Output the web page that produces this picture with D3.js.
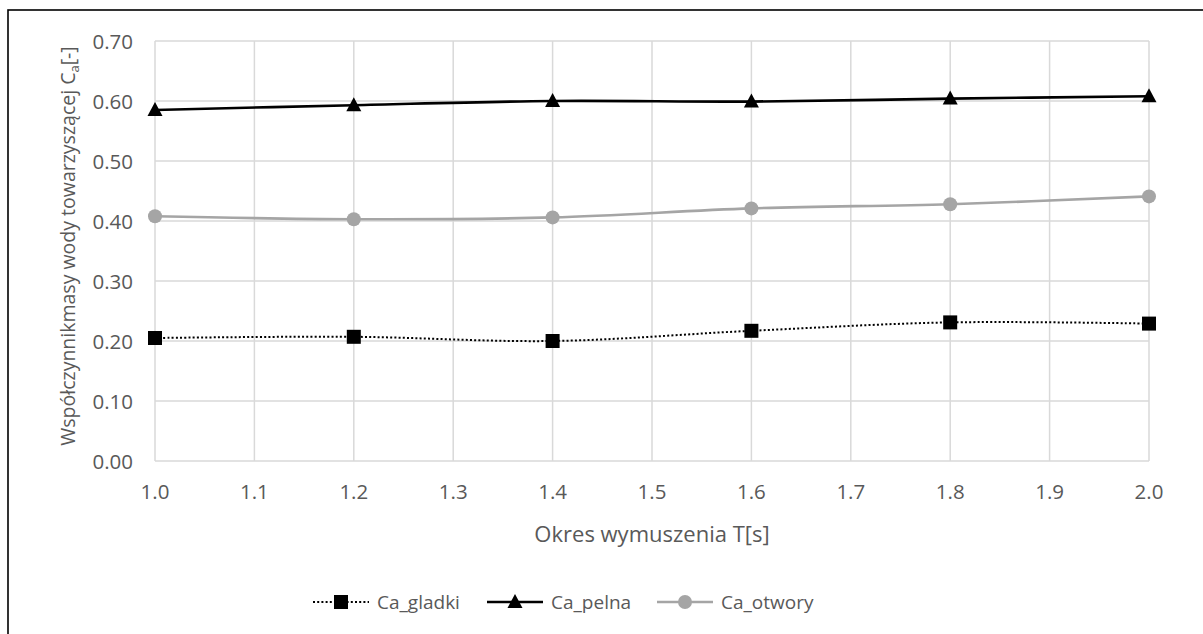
<!DOCTYPE html>
<html><head><meta charset="utf-8">
<script src="https://cdn.jsdelivr.net/npm/d3@7"></script>
<style>body{margin:0;background:#fff}svg{display:block}text{font-family:"Open Sans","Liberation Sans",sans-serif;fill:#595959}</style>
</head><body><svg id="c" width="1203" height="634"></svg>
<script>
const periods = [1.0, 1.2, 1.4, 1.6, 1.8, 2.0];
const caGladki = [0.205, 0.207, 0.200, 0.217, 0.231, 0.229];
const caPelna = [0.585, 0.593, 0.600, 0.599, 0.604, 0.608];
const caOtwory = [0.408, 0.403, 0.406, 0.421, 0.428, 0.441];
const xTicks = [1.0,1.1,1.2,1.3,1.4,1.5,1.6,1.7,1.8,1.9,2.0];
const yTicks = [0,0.1,0.2,0.3,0.4,0.5,0.6,0.7];
const seriesNames = ["Ca_gladki","Ca_pelna","Ca_otwory"];

const svg = d3.select("#c");
svg.append("rect").attr("x",8).attr("y",10).attr("width",1220).attr("height",660)
  .attr("fill","none").attr("stroke","#000").attr("stroke-width",1.6);

const x = d3.scaleLinear().domain([1.0,2.0]).range([155,1149]);
const y = d3.scaleLinear().domain([0,0.7]).range([461,41]);

const g = svg.append("g");
g.selectAll(".vg").data(xTicks).join("line")
  .attr("x1",d=>x(d)).attr("x2",d=>x(d)).attr("y1",y(0.7)).attr("y2",y(0))
  .attr("stroke","#d9d9d9").attr("stroke-width",1.5);
g.selectAll(".hg").data(yTicks).join("line")
  .attr("x1",x(1)).attr("x2",x(2)).attr("y1",d=>y(d)).attr("y2",d=>y(d))
  .attr("stroke","#d9d9d9").attr("stroke-width",1.5);

g.selectAll(".yt").data(yTicks).join("text")
  .attr("x",133).attr("y",d=>y(d)+7.5).attr("text-anchor","end")
  .attr("font-size",20.5).text(d=>d.toFixed(2));
g.selectAll(".xt").data(xTicks).join("text")
  .attr("x",d=>x(d)).attr("y",499).attr("text-anchor","middle")
  .attr("font-size",20.5).text(d=>d.toFixed(1));

svg.append("text").attr("x",652).attr("y",542).attr("text-anchor","middle")
  .attr("font-size",22).text("Okres wymuszenia T[s]");
const yt = svg.append("text").attr("transform","translate(75,246) rotate(-90)")
  .attr("text-anchor","middle").attr("font-size",19.5);
yt.append("tspan").text("Współczynnikmasy wody towarzyszącej C");
yt.append("tspan").attr("font-size",13).attr("dy",4).text("a");
yt.append("tspan").attr("dy",-4).text("[-]");

const line = d3.line().x((d,i)=>x(periods[i])).y(d=>y(d)).curve(d3.curveCatmullRom.alpha(0.5));

const styles = [
  {data:caGladki, color:"#000", width:2, dash:"2,2.2", marker:"square"},
  {data:caPelna, color:"#000", width:2.6, dash:null, marker:"triangle"},
  {data:caOtwory, color:"#a5a5a5", width:2.6, dash:null, marker:"circle"}
];
function marker(sel, type, color){
  if(type==="square") sel.append("rect").attr("x",-7).attr("y",-7).attr("width",14).attr("height",14).attr("fill",color);
  else if(type==="triangle") sel.append("path").attr("d","M0,-8 L7.5,6 L-7.5,6 Z").attr("fill",color);
  else sel.append("circle").attr("r",7).attr("fill",color);
}
[2,1,0].forEach(k=>{
  const s = styles[k];
  svg.append("path").attr("d",line(s.data)).attr("fill","none").attr("stroke",s.color)
    .attr("stroke-width",s.width).attr("stroke-dasharray",s.dash);
  s.data.forEach((v,i)=>{
    const m = svg.append("g").attr("transform",`translate(${x(periods[i])},${y(v)})`);
    marker(m,s.marker,s.color);
  });
});

const legX = [313, 487, 657];
styles.forEach((s,k)=>{
  const lg = svg.append("g").attr("transform",`translate(${legX[k]},602)`);
  lg.append("line").attr("x1",0).attr("x2",56).attr("y1",0).attr("y2",0)
    .attr("stroke",s.color).attr("stroke-width",s.width).attr("stroke-dasharray",s.dash);
  const m = lg.append("g").attr("transform","translate(28,0)");
  marker(m,s.marker,s.color);
  lg.append("text").attr("x",64).attr("y",7).attr("font-size",19).text(seriesNames[k]);
});
</script></body></html>
